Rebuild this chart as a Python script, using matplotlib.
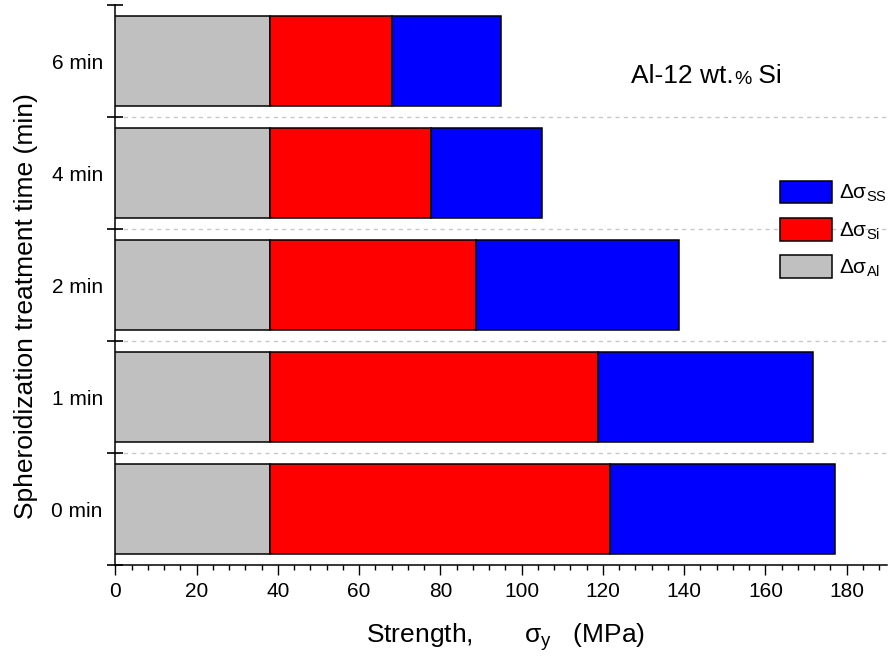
import matplotlib
matplotlib.use("Agg")
import matplotlib.pyplot as plt
from matplotlib.patches import Patch
from matplotlib.ticker import MultipleLocator, FixedLocator

plt.rcParams["font.family"] = ["Liberation Sans", "DejaVu Sans"]
plt.rcParams["mathtext.fontset"] = "custom"
plt.rcParams["mathtext.rm"] = "Liberation Sans"
plt.rcParams["mathtext.it"] = "Liberation Sans"

# treatment times (bottom to top) and strengthening contributions (MPa)
times = ["0 min", "1 min", "2 min", "4 min", "6 min"]
d_sigma_al = [38.1, 38.1, 38.1, 38.1, 38.1]
d_sigma_si = [83.7, 80.6, 50.6, 39.7, 30.1]
d_sigma_ss = [55.4, 53.1, 50.1, 27.1, 26.8]

colors = {"al": "#c0c0c0", "si": "#ff0000", "ss": "#0000ff"}

fig = plt.figure(figsize=(8.88, 6.61), dpi=100)
ax = fig.add_axes([0.1298, 0.1452, 0.8694, 0.8472])

y = list(range(len(times)))
left_si = d_sigma_al
left_ss = [a + b for a, b in zip(d_sigma_al, d_sigma_si)]

bar_kw = dict(height=0.81, edgecolor="black", linewidth=1.1, zorder=3)
ax.barh(y, d_sigma_al, color=colors["al"], **bar_kw)
ax.barh(y, d_sigma_si, left=left_si, color=colors["si"], **bar_kw)
ax.barh(y, d_sigma_ss, left=left_ss, color=colors["ss"], **bar_kw)

ax.set_xlim(0, 190)
ax.set_ylim(-0.5, len(times) - 0.5)

for side in ["top", "right"]:
    ax.spines[side].set_visible(False)
for side in ["left", "bottom"]:
    ax.spines[side].set_linewidth(1.1)

# x ticks
ax.xaxis.set_major_locator(MultipleLocator(20))
ax.xaxis.set_minor_locator(MultipleLocator(4))
ax.tick_params(axis="x", which="major", direction="out", length=7.2, width=1.0,
               labelsize=15, pad=5)
ax.tick_params(axis="x", which="minor", direction="out", length=3.6, width=1.0)

# y ticks: labels at centers, ticks on group boundaries
bounds = [i - 0.5 for i in range(len(times) + 1)]
ax.set_yticks(y)
ax.set_yticklabels(times)
ax.yaxis.set_minor_locator(FixedLocator(bounds))
ax.tick_params(axis="y", which="major", direction="in", length=2, width=1.0,
               color="#555555", labelsize=15, pad=9)
ax.tick_params(axis="y", which="minor", direction="inout", length=11, width=1.2)

# dotted separators between groups only
for b in bounds[1:-1]:
    ax.axhline(b, linestyle=(0, (3, 3)), color="#c8c8c8", linewidth=1.0, zorder=1)

ax.set_xlabel("Strength,       σ$_{\\mathrm{y}}$   (MPa)", fontsize=19)
ax.xaxis.set_label_coords(0.505, -0.100)
ax.set_ylabel("Spheroidization treatment time (min)", fontsize=19)
ax.yaxis.set_label_coords(-0.100, 0.4625)

# alloy annotation, with a smaller percent sign
t1 = ax.text(127, 3.806, "Al-12 wt.", fontsize=19, va="baseline")
t2 = ax.annotate("%", xy=(1, 0), xycoords=t1, fontsize=14, va="bottom")
ax.annotate(" Si", xy=(1, 0), xycoords=t2, fontsize=19, va="bottom")

handles = [
    Patch(facecolor=colors["ss"], edgecolor="black", linewidth=1.1, label="Δσ$_{\\mathrm{SS}}$"),
    Patch(facecolor=colors["si"], edgecolor="black", linewidth=1.1, label="Δσ$_{\\mathrm{Si}}$"),
    Patch(facecolor=colors["al"], edgecolor="black", linewidth=1.1, label="Δσ$_{\\mathrm{Al}}$"),
]
ax.legend(handles=handles, loc="upper left", bbox_to_anchor=(0.861, 0.686),
          frameon=False, fontsize=15, handlelength=2.5, handleheight=1.28,
          labelspacing=0.66, handletextpad=0.33, borderpad=0, borderaxespad=0)

fig.savefig("out.png", dpi=100)
